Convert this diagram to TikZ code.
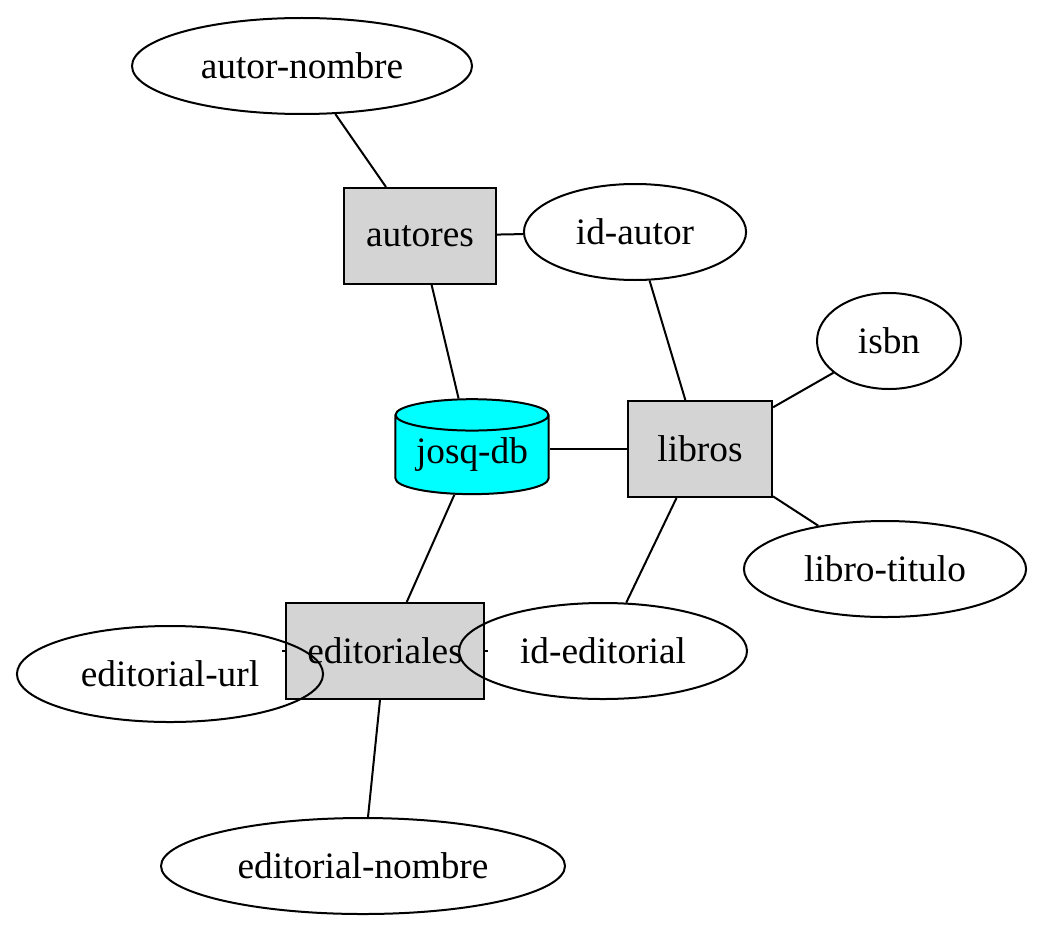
\documentclass[tikz,border=0pt]{standalone}
\usepackage{fontspec}
\setmainfont{Liberation Serif}
\usetikzlibrary{shapes.geometric}

\definecolor{dbcian}{RGB}{0,255,255}
\tikzset{
  attr/.style={draw, ellipse, line width=0.75pt, inner sep=0pt},
  tabla/.style={draw, rectangle, fill=black!17, line width=0.75pt, inner sep=0pt, minimum width=#1, minimum height=36pt},
  dbase/.style={draw, cylinder, shape border rotate=90, aspect=0.28, fill=dbcian, line width=0.75pt, inner sep=0pt, minimum width=57.4pt, minimum height=35.6pt},
  enlace/.style={line width=0.75pt}
}

\begin{document}
\begin{tikzpicture}[x=0.375pt, y=-0.375pt, font=\fontsize{14pt}{16pt}\selectfont]
            \useasboundingbox (0,0) rectangle (1046,934);

            \node[tabla=57pt] (autores) at (420,236) {autores};
            \node[tabla=54pt] (libros) at (700,449) {libros};
            \node[tabla=74.6pt] (editoriales) at (385,651) {editoriales};
            \node[dbase] (db) at (472,455) {josq-db};

            \node[attr, minimum width=127.5pt, minimum height=36pt] (nombre) at (302,66) {autor-nombre};
            \node[attr, minimum width=83.3pt, minimum height=36pt] (idautor) at (635,232) {id-autor};
            \node[attr, minimum width=54pt, minimum height=36pt] (isbn) at (889,341) {isbn};
            \node[attr, minimum width=105.8pt, minimum height=36pt] (titulo) at (885,569) {libro-titulo};
            \node[attr, minimum width=114.8pt, minimum height=36pt] (url) at (170,674) {editorial-url};
            \node[attr, minimum width=108pt, minimum height=36pt] (ideditorial) at (603,651) {id-editorial};
            \node[attr, minimum width=151.5pt, minimum height=36pt] (enombre) at (363,866) {editorial-nombre};

            \draw[enlace] (nombre) -- (autores);
            \draw[enlace] (autores) -- (idautor);
            \draw[enlace] (autores) -- (db);
            \draw[enlace] (idautor) -- (libros);
            \draw[enlace] (isbn) -- (libros);
            \draw[enlace] (libros.west -| db.east) -- (libros.west);
            \draw[enlace] (libros) -- (titulo);
            \draw[enlace] (libros) -- (ideditorial);
            \draw[enlace] (db) -- (editoriales);
            \draw[enlace] (editoriales) -- (enombre);
            \draw[enlace] (editoriales.west) -- ([xshift=-1pt]editoriales.west);
            \draw[enlace] (editoriales.east) -- ([xshift=1pt]editoriales.east);
\end{tikzpicture}
\end{document}
